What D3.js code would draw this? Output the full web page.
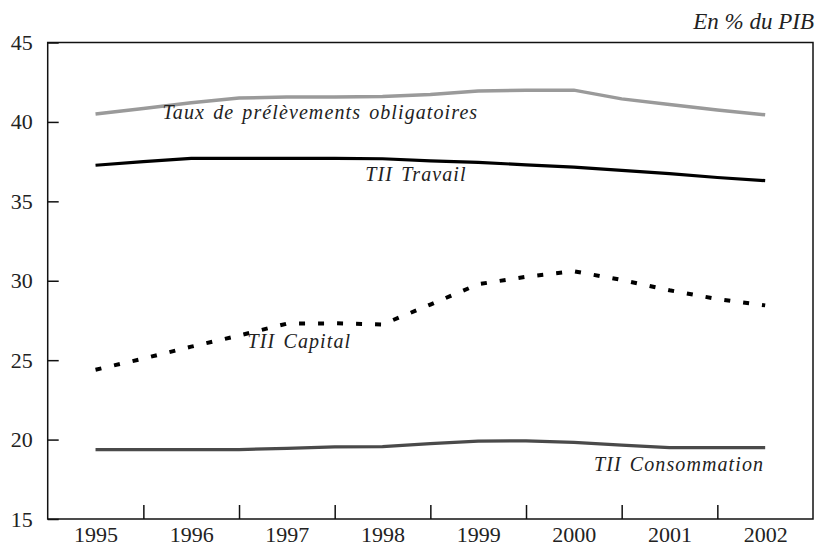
<!DOCTYPE html>
<html>
<head>
<meta charset="utf-8">
<script src="https://cdn.jsdelivr.net/npm/d3@7"></script>
</head>
<body style="margin:0">
<script>
const w = 816;
const h = 549;
const serif = "Liberation Serif";

// data (half-year readings, % du PIB)
const years = [1995, 1995.5, 1996, 1996.5, 1997, 1997.5, 1998, 1998.5, 1999, 1999.5, 2000, 2000.5, 2001, 2001.5, 2002];
const taux = [40.5, 40.85, 41.2, 41.5, 41.57, 41.57, 41.6, 41.72, 41.95, 42.0, 42.0, 41.45, 41.1, 40.75, 40.45];
const travail = [37.27, 37.5, 37.7, 37.7, 37.7, 37.7, 37.68, 37.55, 37.45, 37.3, 37.15, 36.95, 36.75, 36.5, 36.3];
const capital = [24.4, 25.1, 25.85, 26.55, 27.3, 27.32, 27.25, 28.5, 29.78, 30.25, 30.6, 30.05, 29.4, 28.85, 28.45];
const conso = [19.37, 19.37, 19.37, 19.37, 19.45, 19.54, 19.56, 19.75, 19.9, 19.92, 19.82, 19.65, 19.5, 19.5, 19.5];
const yearLabels = [1995, 1996, 1997, 1998, 1999, 2000, 2001, 2002];
const yTicks = [15, 20, 25, 30, 35, 40, 45];

const svg = d3.select("body").append("svg").attr("width", w).attr("height", h);

const m = { t: 42.5, r: 3, b: 30, l: 47.7 };
const gw = w - m.l - m.r;
const gh = h - m.t - m.b;

const x = d3.scaleLinear().domain([1994.5, 2002.5]).range([0, gw]);
const y = d3.scaleLinear().domain([15, 45]).range([gh, 0]);

const g = svg.append("g").attr("transform", `translate(${m.l}, ${m.t})`);

// frame
g.append("rect")
  .attr("width", gw)
  .attr("height", gh)
  .attr("fill", "none")
  .attr("stroke", "#111")
  .attr("stroke-width", 1.5);

// y-axis
const yAG = g.append("g").call(d3.axisLeft(y).tickValues(yTicks).tickSize(-11).tickPadding(15));
yAG.attr("font-family", serif).attr("font-size", 22);
yAG.select(".domain").remove();
yAG.selectAll("line").attr("stroke", "#111").attr("stroke-width", 1.5);
yAG.selectAll("text").attr("fill", "#222");

// x-axis: ticks between years, labels on years
const xTickAG = g.append("g")
  .attr("transform", `translate(0, ${gh})`)
  .call(d3.axisBottom(x).tickValues(yearLabels.slice(0, -1).map((d) => d + 0.5)).tickSize(-14).tickFormat(""));
xTickAG.select(".domain").remove();
xTickAG.selectAll("line").attr("stroke", "#111").attr("stroke-width", 1.5);

const xAG = g.append("g")
  .attr("transform", `translate(0, ${gh})`)
  .call(d3.axisBottom(x).tickValues(yearLabels).tickSize(0).tickPadding(7).tickFormat(d3.format("d")));
xAG.attr("font-family", serif).attr("font-size", 22);
xAG.select(".domain").remove();
xAG.selectAll("text").attr("fill", "#222");

// lines
const line = (vals) => d3.line()
  .x((d, i) => x(years[i]))
  .y((d) => y(d))(vals);

g.append("path").attr("d", line(taux)).attr("fill", "none")
  .attr("stroke", "#9a9a9a").attr("stroke-width", 3.5);
g.append("path").attr("d", line(travail)).attr("fill", "none")
  .attr("stroke", "#000").attr("stroke-width", 3.2);
g.append("path").attr("d", line(capital)).attr("fill", "none")
  .attr("stroke", "#000").attr("stroke-width", 4)
  .attr("stroke-dasharray", "6,13");
g.append("path").attr("d", line(conso)).attr("fill", "none")
  .attr("stroke", "#4a4a4a").attr("stroke-width", 3.2);

// series labels
const labels = [
  { t: "Taux de prélèvements obligatoires", yr: 1995.7, v: 40.2 },
  { t: "TII Travail", yr: 1997.82, v: 36.25 },
  { t: "TII Capital", yr: 1996.59, v: 25.75 },
  { t: "TII Consommation", yr: 2000.21, v: 18.05 }
];
g.selectAll(".lbl")
  .data(labels)
  .enter()
  .append("text")
  .attr("class", "lbl")
  .attr("x", (d) => x(d.yr))
  .attr("y", (d) => y(d.v))
  .attr("font-family", serif)
  .attr("font-style", "italic")
  .attr("font-size", 20)
  .attr("letter-spacing", 1.1)
  .attr("word-spacing", 2)
  .attr("fill", "#222")
  .text((d) => d.t);

// unit
svg.append("text")
  .attr("x", w - 2)
  .attr("y", 29)
  .attr("text-anchor", "end")
  .attr("font-family", serif)
  .attr("font-style", "italic")
  .attr("font-size", 23)
  .attr("fill", "#222")
  .text("En % du PIB");
</script>
</body>
</html>
